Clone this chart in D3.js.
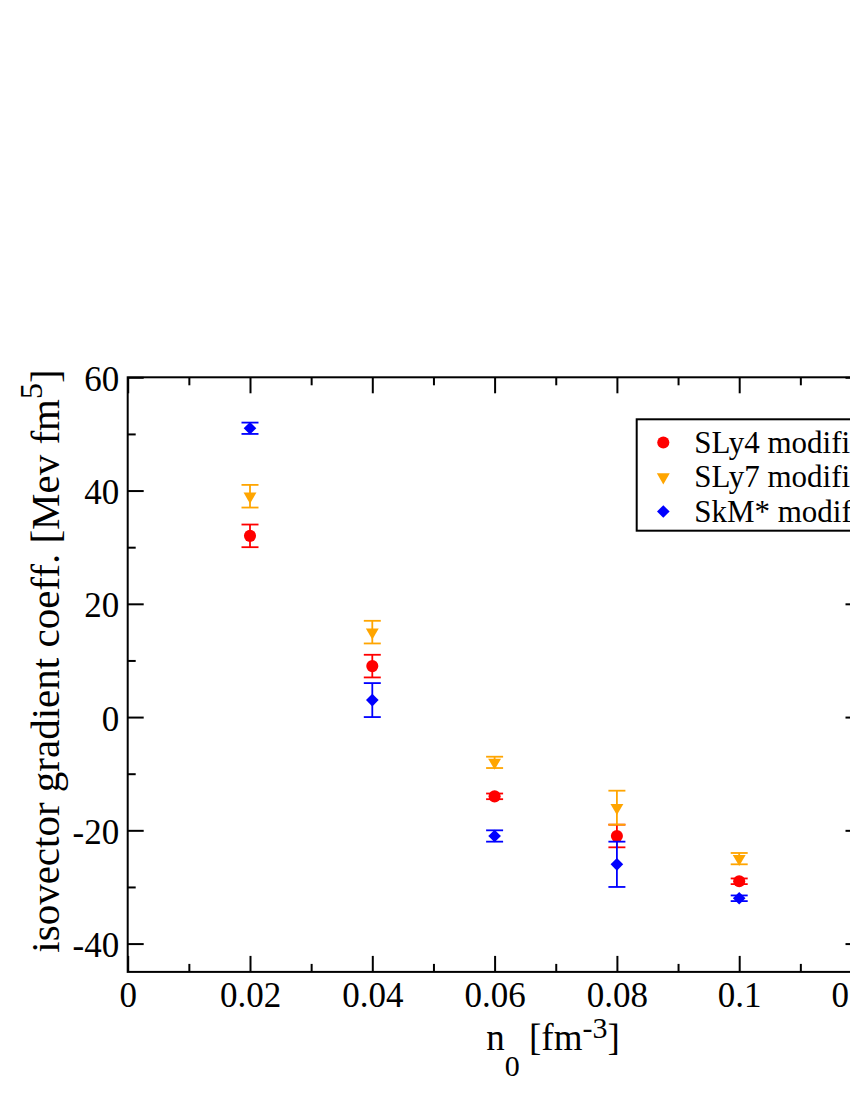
<!DOCTYPE html>
<html>
  <head>
    <meta charset="utf-8">
    <script src="https://d3js.org/d3.v7.min.js"></script>
    <style>
      body { margin: 0; background: #fff; }
      svg { display: block; overflow: hidden; }
      text { font-family: "Liberation Serif", "Times New Roman", serif; fill: #000; }
      .tick text { font-size: 35px; font-family: "Liberation Serif", serif; }
    </style>
  </head>
  <body>
    <svg id="chart" width="850" height="1100"></svg>
    <script>
      // data
      const densities = [0.02, 0.04, 0.06, 0.08, 0.1];
      const sly4Values = [32, 9, -14, -21, -29];
      const sly4Errors = [2, 2, 0.5, 2, 0.5];
      const sly7Values = [39, 15, -8, -16, -25];
      const sly7Errors = [2, 2, 1, 3, 1];
      const skmValues = [51, 3, -21, -26, -32];
      const skmErrors = [1, 3, 1, 4, 0.5];

      const seriesNames = ["SLy4 modified", "SLy7 modified", "SkM* modified"];
      const seriesColors = ["#ff0000", "#ffa500", "#0000ff"];
      const seriesShapes = ["circle", "triangle", "diamond"];

      const xTicks = [0, 0.02, 0.04, 0.06, 0.08, 0.1, 0.12];
      const xMinor = [0.01, 0.03, 0.05, 0.07, 0.09, 0.11];
      const yTicks = [-40, -20, 0, 20, 40, 60];
      const yMinor = [-30, -10, 10, 30, 50];

      const series = [
        {values: sly4Values, errors: sly4Errors},
        {values: sly7Values, errors: sly7Errors},
        {values: skmValues, errors: skmErrors}
      ].map((s, i) => ({name: seriesNames[i], color: seriesColors[i], shape: seriesShapes[i],
        points: densities.map((n, j) => ({x: n, y: s.values[j], e: s.errors[j]}))}));

      const svg = d3.select("svg#chart");
      const plot = {left: 127.7, right: 861.5, top: 377.3, bottom: 971.9};

      const x = d3.scaleLinear().domain([0, 0.12]).range([plot.left, plot.right]);
      const y = d3.scaleLinear().domain([-45, 60]).range([plot.bottom, plot.top]);

      // frame
      svg.append("rect")
        .attr("x", plot.left).attr("y", plot.top)
        .attr("width", plot.right - plot.left).attr("height", plot.bottom - plot.top)
        .attr("fill", "none").attr("stroke", "#000").attr("stroke-width", 2);

      function styleAxis(g) {
        g.select(".domain").remove();
        g.selectAll(".tick line").attr("stroke", "#000").attr("stroke-width", 2);
      }

      // bottom axis with labels, ticks pointing inward
      svg.append("g")
        .attr("transform", `translate(0,${plot.bottom})`)
        .call(d3.axisBottom(x).tickValues(xTicks).tickSize(-16).tickPadding(10)
          .tickFormat(d => String(+d.toFixed(2))))
        .call(styleAxis);
      svg.append("g")
        .attr("transform", `translate(0,${plot.bottom})`)
        .call(d3.axisBottom(x).tickValues(xMinor).tickSize(-8).tickFormat(""))
        .call(styleAxis);

      // top axis ticks
      svg.append("g")
        .attr("transform", `translate(0,${plot.top})`)
        .call(d3.axisTop(x).tickValues(xTicks).tickSize(-16).tickFormat(""))
        .call(styleAxis);
      svg.append("g")
        .attr("transform", `translate(0,${plot.top})`)
        .call(d3.axisTop(x).tickValues(xMinor).tickSize(-8).tickFormat(""))
        .call(styleAxis);

      // left axis (plain hyphen for negatives, as in the figure)
      svg.append("g")
        .attr("transform", `translate(${plot.left},0)`)
        .call(d3.axisLeft(y).tickValues(yTicks).tickSize(-16).tickPadding(8.5)
          .tickFormat(d => String(d)))
        .call(styleAxis)
        .selectAll("text").attr("dy", "0.37em");
      svg.append("g")
        .attr("transform", `translate(${plot.left},0)`)
        .call(d3.axisLeft(y).tickValues(yMinor).tickSize(-8).tickFormat(""))
        .call(styleAxis);

      // right axis ticks
      svg.append("g")
        .attr("transform", `translate(${plot.right},0)`)
        .call(d3.axisRight(y).tickValues(yTicks).tickSize(-16).tickFormat(""))
        .call(styleAxis);
      svg.append("g")
        .attr("transform", `translate(${plot.right},0)`)
        .call(d3.axisRight(y).tickValues(yMinor).tickSize(-8).tickFormat(""))
        .call(styleAxis);

      // markers
      const symbolFor = {
        circle: d3.symbol(d3.symbolCircle, 115)(),
        triangle: d3.symbol(d3.symbolTriangle, 72)(),
        diamond: d3.symbol(d3.symbolSquare, 80)()
      };
      const rotateFor = {circle: 0, triangle: 180, diamond: 45};
      const capHalf = 8.5;

      series.forEach(s => {
        const g = svg.append("g");
        const bars = g.selectAll("g.err").data(s.points).join("g").attr("class", "err")
          .attr("stroke", s.color).attr("stroke-width", 1.8).attr("fill", "none");
        bars.append("line")
          .attr("x1", d => x(d.x)).attr("x2", d => x(d.x))
          .attr("y1", d => y(d.y + d.e)).attr("y2", d => y(d.y - d.e));
        bars.append("line")
          .attr("x1", d => x(d.x) - capHalf).attr("x2", d => x(d.x) + capHalf)
          .attr("y1", d => y(d.y + d.e)).attr("y2", d => y(d.y + d.e));
        bars.append("line")
          .attr("x1", d => x(d.x) - capHalf).attr("x2", d => x(d.x) + capHalf)
          .attr("y1", d => y(d.y - d.e)).attr("y2", d => y(d.y - d.e));

        g.selectAll("path.mark").data(s.points).join("path").attr("class", "mark")
          .attr("d", symbolFor[s.shape])
          .attr("transform", d => `translate(${x(d.x)},${y(d.y)}) rotate(${rotateFor[s.shape]})`)
          .attr("fill", s.color);
      });

      // legend
      const legend = svg.append("g").attr("transform", "translate(636.7,419.3)");
      legend.append("rect")
        .attr("width", 320).attr("height", 111.4)
        .attr("fill", "#fff").attr("stroke", "#000").attr("stroke-width", 2);
      const rows = legend.selectAll("g.row").data(series).join("g").attr("class", "row")
        .attr("transform", (d, i) => `translate(0,${23.2 + i * 34.5})`);
      rows.append("path")
        .attr("d", d => symbolFor[d.shape])
        .attr("transform", d => `translate(26.6,0) rotate(${rotateFor[d.shape]})`)
        .attr("fill", d => d.color);
      rows.append("text")
        .attr("x", 57.5).attr("dy", "0.33em")
        .style("font-size", "31px")
        .text(d => d.name);

      // axis titles
      const xTitle = svg.append("text")
        .attr("x", 553).attr("y", 1050)
        .attr("text-anchor", "middle")
        .style("font-size", "37px");
      xTitle.append("tspan").text("n");
      xTitle.append("tspan").attr("dy", 26).style("font-size", "30px").text("0");
      xTitle.append("tspan").attr("dy", -26).text(" [fm");
      xTitle.append("tspan").attr("dy", -12).style("font-size", "30px").text("-3");
      xTitle.append("tspan").attr("dy", 12).text("]");

      const yTitle = svg.append("text")
        .attr("transform", "translate(59,661) rotate(-90)")
        .attr("text-anchor", "middle")
        .style("font-size", "41px");
      yTitle.append("tspan").text("isovector gradient coeff. [Mev fm");
      yTitle.append("tspan").attr("dy", -17).style("font-size", "32px").text("5");
      yTitle.append("tspan").attr("dy", 17).text("]");
    </script>
  </body>
</html>
